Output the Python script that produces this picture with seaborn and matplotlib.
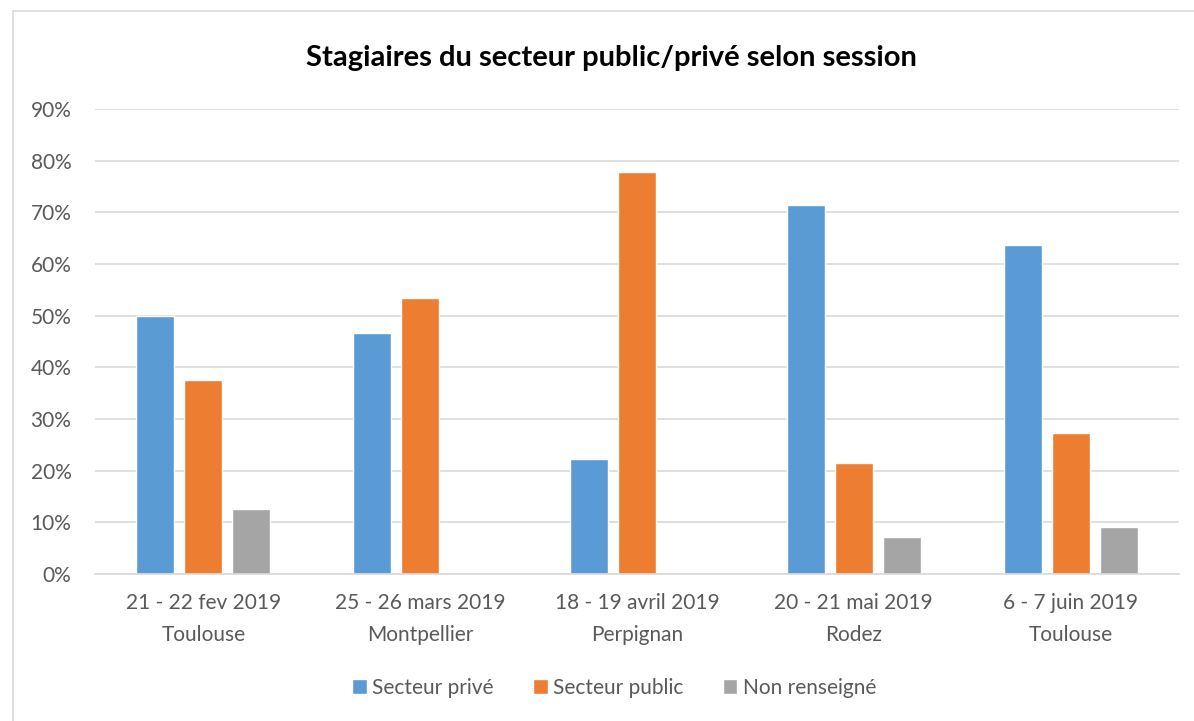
import matplotlib
matplotlib.use("Agg")
import matplotlib.pyplot as plt
import seaborn as sns
import pandas as pd
from matplotlib.patches import Rectangle
from matplotlib.ticker import FuncFormatter

sessions = ["21 - 22 fev 2019\nToulouse", "25 - 26 mars 2019\nMontpellier",
            "18 - 19 avril 2019\nPerpignan", "20 - 21 mai 2019\nRodez",
            "6 - 7 juin 2019\nToulouse"]
series = ["Secteur privé", "Secteur public", "Non renseigné"]
prive = [50.0, 46.67, 22.22, 71.43, 63.64]
public = [37.5, 53.33, 77.78, 21.43, 27.27]
non_renseigne = [12.5, 0.0, 0.0, 7.14, 9.09]
yticks = [0, 10, 20, 30, 40, 50, 60, 70, 80, 90]
colors = ["#5B9BD5", "#ED7D31", "#A5A5A5"]

rows = []
for s, vals in zip(series, [prive, public, non_renseigne]):
    for c, v in zip(sessions, vals):
        rows.append({"session": c, "serie": s, "valeur": v})
df = pd.DataFrame(rows)

sns.set_theme(style="white")
plt.rcParams["font.family"] = ["Lato", "DejaVu Sans"]
text_col = "#595959"

fig = plt.figure(figsize=(11.94, 7.21), dpi=100)
ax = fig.add_axes([95/1194, 1 - 574/721, (1179-95)/1194, (574-109)/721])

sns.barplot(data=df, x="session", y="valeur", hue="serie", palette=colors,
            width=0.664, gap=0.21, ax=ax, saturation=1, legend=True)

ax.set_ylim(0, 90)
ax.set_xlim(-0.5, 4.5)
ax.set_yticks(yticks)
ax.yaxis.set_major_formatter(FuncFormatter(lambda v, p: f"{int(v)}%"))
ax.grid(axis="y", color="#D9D9D9", linewidth=1.2)
ax.set_axisbelow(True)
for sp in ["top", "right", "left"]:
    ax.spines[sp].set_visible(False)
ax.spines["bottom"].set_color("#D9D9D9")
ax.spines["bottom"].set_linewidth(1.2)
ax.tick_params(axis="both", length=0, labelsize=15, labelcolor=text_col)
ax.tick_params(axis="y", pad=17)
ax.tick_params(axis="x", pad=14)
for lbl in ax.get_xticklabels():
    lbl.set_linespacing(1.75)
ax.set_xlabel("")
ax.set_ylabel("")

fig.text(611/1194, 1 - 58/721, "Stagiaires du secteur public/privé selon session",
         ha="center", va="center", fontsize=21, fontweight="bold", color="black")

handles, labels = ax.get_legend_handles_labels()
ax.legend_.remove()
fig.legend(handles, labels, loc="center", bbox_to_anchor=(614/1194, 1 - 688/721),
           ncol=3, frameon=False, fontsize=15, labelcolor=text_col,
           handlelength=0.7, handleheight=0.7, handletextpad=0.25, columnspacing=1.9)

fig.patches.append(Rectangle((13/1194, -0.05), 1.2, 1 - 11/721 + 0.05,
                             transform=fig.transFigure, fill=False,
                             edgecolor="#D9D9D9", linewidth=1.2))

fig.savefig("out.png", dpi=100)
